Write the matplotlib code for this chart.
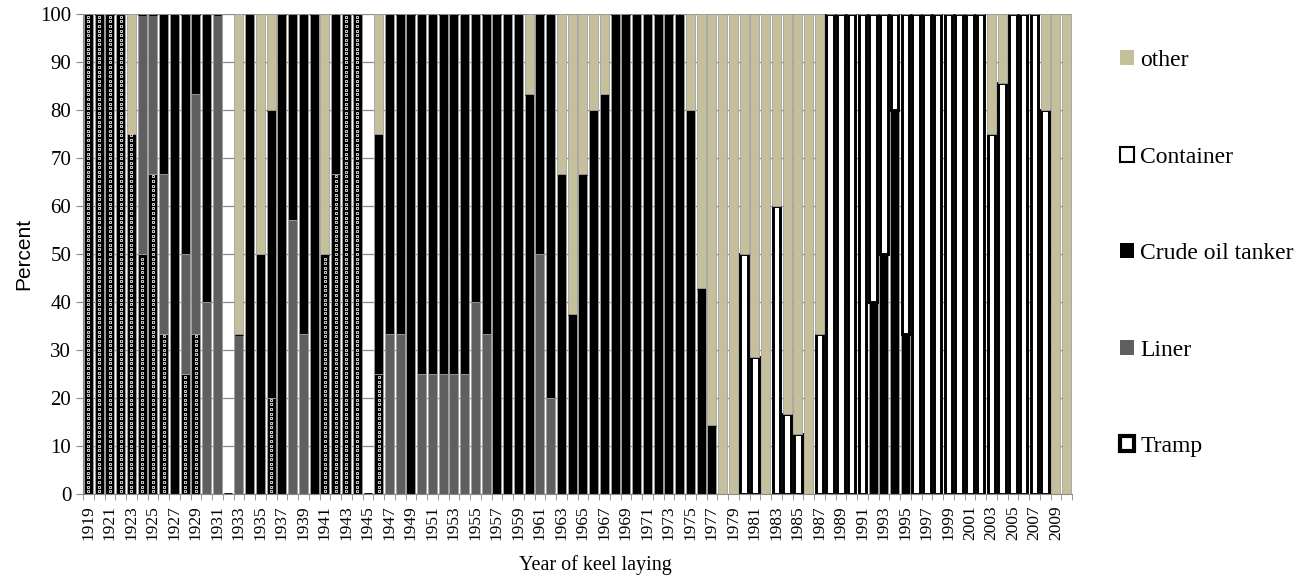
import matplotlib.pyplot as plt
import numpy as np
from matplotlib.patches import Patch

# share of ships per type, by year of keel laying (1919 .. 2010)
years = np.arange(1919, 2011)

tramp = [100, 100, 100, 100, 75, 50, 66.7, 33.3, 0, 25,      # 1919-1928
         33.3, 0, 0, 0, 0, 0, 0, 20, 0, 0,                  # 1929-1938
         0, 0, 50, 66.7, 100, 100, 0, 25, 0, 0,             # 1939-1948
         0, 0, 0, 0, 0, 0, 0, 0, 0, 0,                      # 1949-1958
         0, 0, 0, 0, 0, 0, 0, 0, 0, 0,                      # 1959-1968
         0, 0, 0, 0, 0, 0, 0, 0, 0, 0,                      # 1969-1978
         0, 0, 0, 0, 0, 0, 0, 0, 0, 0,                      # 1979-1988
         0, 0, 0, 0, 0, 0, 0, 0, 0, 0,                      # 1989-1998
         0, 0, 0, 0, 0, 0, 0, 0, 0, 0,                      # 1999-2008
         0, 0]                                              # 2009-2010

liner = [0, 0, 0, 0, 0, 50, 33.3, 33.3, 0, 25,
         50, 40, 100, 0, 33.3, 0, 0, 0, 0, 57.1,
         33.3, 0, 0, 0, 0, 0, 0, 0, 33.3, 33.3,
         0, 25, 25, 25, 25, 25, 40, 33.3, 0, 0,
         0, 0, 50, 20, 0, 0, 0, 0, 0, 0,
         0, 0, 0, 0, 0, 0, 0, 0, 0, 0,
         0, 0, 0, 0, 0, 0, 0, 0, 0, 0,
         0, 0, 0, 0, 0, 0, 0, 0, 0, 0,
         0, 0, 0, 0, 0, 0, 0, 0, 0, 0,
         0, 0]

crude = [0, 0, 0, 0, 0, 0, 0, 33.4, 100, 50,
         16.7, 60, 0, 0, 0, 100, 50, 60, 100, 42.9,
         66.7, 100, 0, 33.3, 0, 0, 0, 50, 66.7, 66.7,
         100, 75, 75, 75, 75, 75, 60, 66.7, 100, 100,
         100, 83.3, 50, 80, 66.7, 37.5, 66.7, 80, 83.3, 100,
         100, 100, 100, 100, 100, 100, 80, 42.9, 14.3, 0,
         0, 0, 0, 0, 0, 0, 0, 0, 0, 0,
         0, 0, 0, 40, 50, 80, 33.3, 0, 0, 0,
         0, 0, 0, 0, 0, 0, 0, 0, 0, 0,
         0, 0]

container = [0, 0, 0, 0, 0, 0, 0, 0, 0, 0,
             0, 0, 0, 0, 0, 0, 0, 0, 0, 0,
             0, 0, 0, 0, 0, 0, 0, 0, 0, 0,
             0, 0, 0, 0, 0, 0, 0, 0, 0, 0,
             0, 0, 0, 0, 0, 0, 0, 0, 0, 0,
             0, 0, 0, 0, 0, 0, 0, 0, 0, 0,
             0, 50, 28.6, 0, 60, 16.7, 12.5, 0, 33.3, 100,
             100, 100, 100, 60, 50, 20, 66.7, 100, 100, 100,
             100, 100, 100, 100, 75, 85.7, 100, 100, 100, 80,
             0, 0]

other = [0, 0, 0, 0, 25, 0, 0, 0, 0, 0,
         0, 0, 0, 0, 66.7, 0, 50, 20, 0, 0,
         0, 0, 50, 0, 0, 0, 0, 25, 0, 0,
         0, 0, 0, 0, 0, 0, 0, 0, 0, 0,
         0, 16.7, 0, 0, 33.3, 62.5, 33.3, 20, 16.7, 0,
         0, 0, 0, 0, 0, 0, 20, 57.1, 85.7, 100,
         100, 50, 71.4, 100, 40, 83.3, 87.5, 100, 66.7, 0,
         0, 0, 0, 0, 0, 0, 0, 0, 0, 0,
         0, 0, 0, 0, 25, 14.3, 0, 0, 0, 20,
         100, 100]

tan = '#c6bf9b'
grey = '#5f5f5f'
sep = '#a0a0a0'
serif = 'Liberation Serif'

fig = plt.figure(figsize=(13.02, 5.79), dpi=100)
ax = fig.add_axes([83 / 1302, 1 - 494 / 579, (1072 - 83) / 1302, 480 / 579])

w = 0.84
bottom = np.zeros(len(years))
ax.bar(years, tramp, w, bottom=bottom, color='black', edgecolor=sep, linewidth=0.6, zorder=2)
bottom += np.array(tramp)
ax.bar(years, liner, w, bottom=bottom, color=grey, edgecolor=sep, linewidth=0.6, zorder=2)
bottom += np.array(liner)
ax.bar(years, crude, w, bottom=bottom, color='black', edgecolor=sep, linewidth=0.6, zorder=2)
bottom += np.array(crude)
ax.bar(years, container, 0.7, bottom=bottom, color='white', edgecolor='black', linewidth=2.1, zorder=2)
bottom += np.array(container)
ax.bar(years, other, w, bottom=bottom, color=tan, edgecolor=sep, linewidth=0.6, zorder=2)

# little white squares of the tramp pattern
for yr, t in zip(years, tramp):
    if t > 0:
        ys = np.arange(0.6, t - 0.3, 0.95)
        ax.scatter(np.full(len(ys), yr), ys, marker='s', s=4.5, facecolor='black',
                   edgecolor='white', linewidth=0.55, zorder=3)

ax.set_xlim(1918.5, 2010.5)
ax.set_ylim(0, 100)
ax.set_yticks(np.arange(0, 101, 10))
ax.grid(axis='y', color='#8a8a8a', linewidth=0.9, zorder=0)
ax.set_axisbelow(True)

odd_years = years[::2]
ax.set_xticks(odd_years)
ax.set_xticklabels([str(y) for y in odd_years], rotation=90, fontsize=12.5, family=serif)
ax.set_xticks(np.arange(1918.5, 2011, 1), minor=True)
ax.tick_params(axis='x', which='major', length=0, pad=8)
ax.tick_params(axis='x', which='minor', length=4, color='#8a8a8a')
ax.tick_params(axis='y', length=5, color='#8a8a8a', labelsize=15)
for lab in ax.get_yticklabels():
    lab.set_family(serif)

for s in ['top', 'right']:
    ax.spines[s].set_visible(False)
ax.spines['left'].set_color('#8a8a8a')
ax.spines['bottom'].set_color('#8a8a8a')

ax.set_ylabel('Percent', fontsize=15, family='Liberation Sans', labelpad=5)
fig.text(595 / 1302, 1 - 565 / 579, 'Year of keel laying', fontsize=14.5, family=serif,
         ha='center', va='center')

handles = [Patch(facecolor=tan, edgecolor='none', label='other'),
           Patch(facecolor='white', edgecolor='black', linewidth=1.5, label='Container'),
           Patch(facecolor='black', edgecolor='none', label='Crude oil tanker'),
           Patch(facecolor=grey, edgecolor='none', label='Liner'),
           Patch(facecolor='white', edgecolor='black', linewidth=3, label='Tramp')]
fig.legend(handles=handles, loc='upper left', bbox_to_anchor=(1120 / 1302, 1 - 50 / 579),
           frameon=False, prop={'family': serif, 'size': 17}, handlelength=0.6,
           handleheight=0.6, handletextpad=0.25, labelspacing=3.2, borderpad=0,
           borderaxespad=0)

fig.savefig('out.png', dpi=100)
